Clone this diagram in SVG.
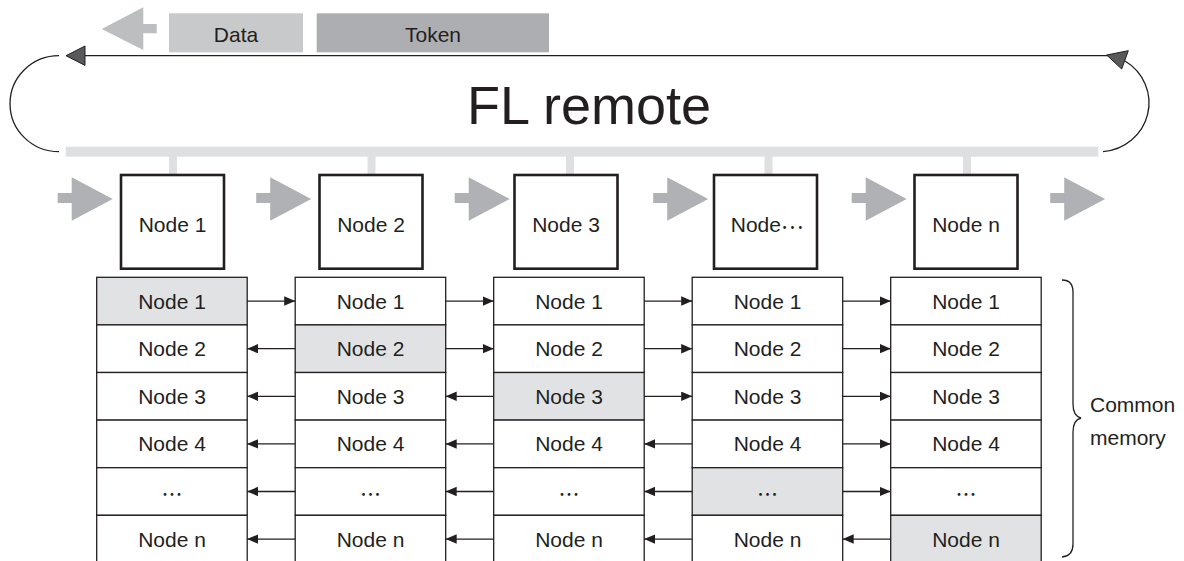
<svg xmlns="http://www.w3.org/2000/svg" width="1184" height="561" viewBox="0 0 1184 561">
<style>
text{font-family:"Liberation Sans",Arial,"Noto Sans CJK JP",sans-serif;fill:#231f20;font-size:21px;text-anchor:middle}
.cj{font-family:"Noto Sans CJK JP","Liberation Sans",sans-serif}
.box{fill:#fff;stroke:#231f20;stroke-width:2.6}
.cell{fill:#fff;stroke:#231f20;stroke-width:1.3}
.hl{fill:#e1e2e4}
.garrow{fill:#b0b1b4}
.bar{fill:#dfe0e2}
.conn{stroke:#231f20;stroke-width:1.3;fill:none}
</style>
<defs>
<marker id="ah" markerUnits="userSpaceOnUse" markerWidth="12" markerHeight="10" refX="11" refY="4.75" orient="auto">
<path d="M0,0 L11,4.75 L0,9.5 z" fill="#231f20"/>
</marker>
<symbol id="ga" overflow="visible">
<path d="M0,16 H14 V0.3 L55,22 L14,43.7 V26 H0 z" class="garrow"/>
</symbol>
</defs>

<g id="legend">
<path d="M101.7,29 L143.3,7.3 V24 H156.7 V33.3 H143.3 V50 z" fill="#bdbec0"/>
<rect x="169" y="13.3" width="134" height="39" fill="#c8c9cb"/>
<text x="236" y="42">Data</text>
<rect x="316.7" y="13.3" width="232.3" height="39" fill="#adaeb1"/>
<text x="433" y="42">Token</text>
</g>

<g id="ring">
<rect class="bar" x="65.7" y="146.7" width="1032.6" height="10"/>
<rect class="bar" x="169" y="156" width="8" height="20"/>
<rect class="bar" x="367.5" y="156" width="8" height="20"/>
<rect class="bar" x="566" y="156" width="8" height="20"/>
<rect class="bar" x="764.5" y="156" width="8" height="20"/>
<rect class="bar" x="963" y="156" width="8" height="20"/>
<path class="conn" d="M59,55.7 A49,48 0 0 0 59,151.7"/>
<path class="conn" d="M85,55.7 H1108"/>
<polygon points="66,55.7 85,46 85,65.4" fill="#58595b" stroke="#231f20" stroke-width="1"/>
<path class="conn" d="M1103,151.7 A50,49 0 0 0 1125,61"/>
<polygon points="1106.7,55 1128.3,50.7 1121.7,69" fill="#58595b" stroke="#231f20" stroke-width="1"/>
<text x="589" y="124" style="font-size:54px">FL remote</text>
</g>

<g id="token-arrows">
<use href="#ga" x="57.7" y="177"/>
<use href="#ga" x="256.2" y="177"/>
<use href="#ga" x="454.7" y="177"/>
<use href="#ga" x="653.2" y="177"/>
<use href="#ga" x="851.7" y="177"/>
<use href="#ga" x="1050.2" y="177"/>
</g>

<g id="node1"><rect class="box" x="121" y="175" width="103" height="93.7"/><text x="172.5" y="231.7">Node 1</text></g>
<g id="node2"><rect class="box" x="319.5" y="175" width="103" height="93.7"/><text x="371" y="231.7">Node 2</text></g>
<g id="node3"><rect class="box" x="514.5" y="175" width="103" height="93.7"/><text x="566" y="231.7">Node 3</text></g>
<g id="node4"><rect class="box" x="714" y="175" width="103" height="93.7"/><text x="767" y="231.7">Node<tspan class="cj" dy="-3">…</tspan></text></g>
<g id="noden"><rect class="box" x="914.5" y="175" width="103" height="93.7"/><text x="966" y="231.7">Node n</text></g>

<g id="mem1">
<rect class="cell hl" x="96.7" y="277.3" width="150.5" height="47.6"/><text x="172" y="308.6">Node 1</text>
<rect class="cell" x="96.7" y="324.9" width="150.5" height="47.6"/><text x="172" y="356.2">Node 2</text>
<rect class="cell" x="96.7" y="372.5" width="150.5" height="47.6"/><text x="172" y="403.8">Node 3</text>
<rect class="cell" x="96.7" y="420.1" width="150.5" height="47.6"/><text x="172" y="451.4">Node 4</text>
<rect class="cell" x="96.7" y="467.7" width="150.5" height="47.6"/><text class="cj" x="172" y="502">…</text>
<rect class="cell" x="96.7" y="515.3" width="150.5" height="47.6"/><text x="172" y="546.6">Node n</text>
</g>
<g id="mem2">
<rect class="cell" x="295.2" y="277.3" width="150.5" height="47.6"/><text x="370.5" y="308.6">Node 1</text>
<rect class="cell hl" x="295.2" y="324.9" width="150.5" height="47.6"/><text x="370.5" y="356.2">Node 2</text>
<rect class="cell" x="295.2" y="372.5" width="150.5" height="47.6"/><text x="370.5" y="403.8">Node 3</text>
<rect class="cell" x="295.2" y="420.1" width="150.5" height="47.6"/><text x="370.5" y="451.4">Node 4</text>
<rect class="cell" x="295.2" y="467.7" width="150.5" height="47.6"/><text class="cj" x="370.5" y="502">…</text>
<rect class="cell" x="295.2" y="515.3" width="150.5" height="47.6"/><text x="370.5" y="546.6">Node n</text>
</g>
<g id="mem3">
<rect class="cell" x="493.7" y="277.3" width="150.5" height="47.6"/><text x="569" y="308.6">Node 1</text>
<rect class="cell" x="493.7" y="324.9" width="150.5" height="47.6"/><text x="569" y="356.2">Node 2</text>
<rect class="cell hl" x="493.7" y="372.5" width="150.5" height="47.6"/><text x="569" y="403.8">Node 3</text>
<rect class="cell" x="493.7" y="420.1" width="150.5" height="47.6"/><text x="569" y="451.4">Node 4</text>
<rect class="cell" x="493.7" y="467.7" width="150.5" height="47.6"/><text class="cj" x="569" y="502">…</text>
<rect class="cell" x="493.7" y="515.3" width="150.5" height="47.6"/><text x="569" y="546.6">Node n</text>
</g>
<g id="mem4">
<rect class="cell" x="692.2" y="277.3" width="150.5" height="47.6"/><text x="767.5" y="308.6">Node 1</text>
<rect class="cell" x="692.2" y="324.9" width="150.5" height="47.6"/><text x="767.5" y="356.2">Node 2</text>
<rect class="cell" x="692.2" y="372.5" width="150.5" height="47.6"/><text x="767.5" y="403.8">Node 3</text>
<rect class="cell" x="692.2" y="420.1" width="150.5" height="47.6"/><text x="767.5" y="451.4">Node 4</text>
<rect class="cell hl" x="692.2" y="467.7" width="150.5" height="47.6"/><text class="cj" x="767.5" y="502">…</text>
<rect class="cell" x="692.2" y="515.3" width="150.5" height="47.6"/><text x="767.5" y="546.6">Node n</text>
</g>
<g id="mem5">
<rect class="cell" x="890.7" y="277.3" width="150.5" height="47.6"/><text x="966" y="308.6">Node 1</text>
<rect class="cell" x="890.7" y="324.9" width="150.5" height="47.6"/><text x="966" y="356.2">Node 2</text>
<rect class="cell" x="890.7" y="372.5" width="150.5" height="47.6"/><text x="966" y="403.8">Node 3</text>
<rect class="cell" x="890.7" y="420.1" width="150.5" height="47.6"/><text x="966" y="451.4">Node 4</text>
<rect class="cell" x="890.7" y="467.7" width="150.5" height="47.6"/><text class="cj" x="966" y="502">…</text>
<rect class="cell hl" x="890.7" y="515.3" width="150.5" height="47.6"/><text x="966" y="546.6">Node n</text>
</g>

<g id="connectors" class="conn" marker-end="url(#ah)">
<!-- row Node 1 -->
<path d="M247.2,301.1 H295.2"/><path d="M445.7,301.1 H493.7"/><path d="M644.2,301.1 H692.2"/><path d="M842.7,301.1 H890.7"/>
<!-- row Node 2 -->
<path d="M295.2,348.7 H247.2"/><path d="M445.7,348.7 H493.7"/><path d="M644.2,348.7 H692.2"/><path d="M842.7,348.7 H890.7"/>
<!-- row Node 3 -->
<path d="M295.2,396.3 H247.2"/><path d="M493.7,396.3 H445.7"/><path d="M644.2,396.3 H692.2"/><path d="M842.7,396.3 H890.7"/>
<!-- row Node 4 -->
<path d="M295.2,443.9 H247.2"/><path d="M493.7,443.9 H445.7"/><path d="M692.2,443.9 H644.2"/><path d="M842.7,443.9 H890.7"/>
<!-- row ... -->
<path d="M295.2,491.5 H247.2"/><path d="M493.7,491.5 H445.7"/><path d="M692.2,491.5 H644.2"/><path d="M842.7,491.5 H890.7"/>
<!-- row Node n -->
<path d="M295.2,539.1 H247.2"/><path d="M493.7,539.1 H445.7"/><path d="M692.2,539.1 H644.2"/><path d="M890.7,539.1 H842.7"/>
</g>

<g id="common-memory">
<path class="conn" d="M1062,280 Q1073,280 1073,292 V404 Q1073,416 1081,418 Q1073,420 1073,432 V544 Q1073,556 1062,557"/>
<text x="1090" y="412" style="text-anchor:start">Common</text>
<text x="1090" y="445" style="text-anchor:start">memory</text>
</g>
</svg>
